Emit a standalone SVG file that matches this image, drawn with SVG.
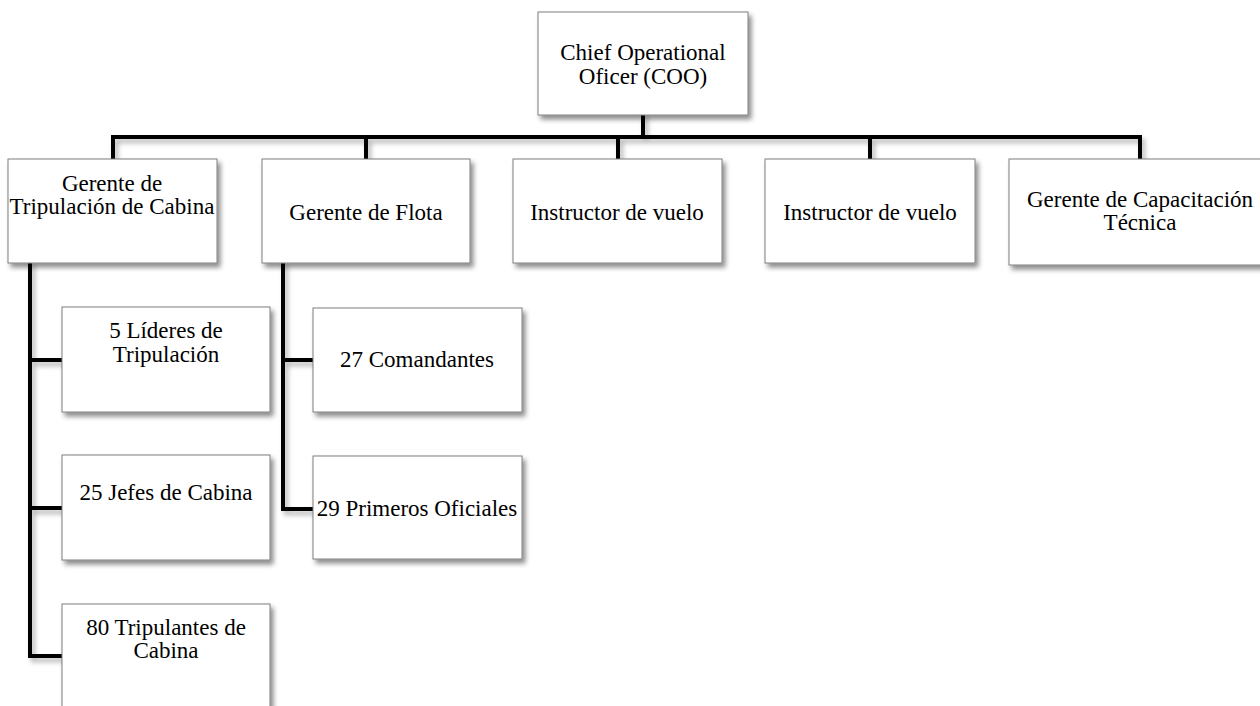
<svg xmlns="http://www.w3.org/2000/svg" width="1260" height="706" viewBox="0 0 1260 706">
  <defs>
    <filter id="shadow" x="-10%" y="-10%" width="130%" height="130%">
      <feDropShadow dx="3" dy="4" stdDeviation="2.5" flood-color="#000" flood-opacity="0.45"/>
    </filter>
    <filter id="lineShadow" x="-5%" y="-5%" width="110%" height="110%">
      <feDropShadow dx="3" dy="4" stdDeviation="2.5" flood-color="#000" flood-opacity="0.3"/>
    </filter>
  </defs>
  <style>
    .box { fill: #ffffff; stroke: #7f7f7f; stroke-width: 1; filter: url(#shadow); }
    .lbl { font-family: "Liberation Serif", "Times New Roman", serif; font-size: 23px; fill: #000; text-anchor: middle; }
    .conn { fill: none; stroke: #000; stroke-width: 4; stroke-linejoin: miter; stroke-linecap: square; }
  </style>
  <rect width="1260" height="706" fill="#ffffff"/>

  <!-- connectors -->
  <g id="connectors" filter="url(#lineShadow)">
    <path class="conn" d="M643 115 V137"/>
    <path class="conn" d="M113 159 V137 H1140 V159"/>
    <path class="conn" d="M366 137 V159"/>
    <path class="conn" d="M618 137 V159"/>
    <path class="conn" d="M870 137 V159"/>
    <path class="conn" d="M30 263 V656 H62"/>
    <path class="conn" d="M30 360 H62"/>
    <path class="conn" d="M30 508 H62"/>
    <path class="conn" d="M283 263 V509 H313"/>
    <path class="conn" d="M283 360 H313"/>
  </g>

  <!-- top level -->
  <g id="coo">
    <rect class="box" x="538" y="12" width="210" height="103"/>
    <text class="lbl" x="643" y="60">Chief Operational</text>
    <text class="lbl" x="643" y="84">Oficer (COO)</text>
  </g>

  <!-- second level -->
  <g id="gerente-tripulacion">
    <rect class="box" x="8" y="159" width="209" height="104"/>
    <text class="lbl" x="112" y="191">Gerente de</text>
    <text class="lbl" x="112" y="214">Tripulación de Cabina</text>
  </g>
  <g id="gerente-flota">
    <rect class="box" x="262" y="159" width="208" height="104"/>
    <text class="lbl" x="366" y="220">Gerente de Flota</text>
  </g>
  <g id="instructor-1">
    <rect class="box" x="513" y="159" width="209" height="104"/>
    <text class="lbl" x="617" y="220">Instructor de vuelo</text>
  </g>
  <g id="instructor-2">
    <rect class="box" x="765" y="159" width="210" height="104"/>
    <text class="lbl" x="870" y="220">Instructor de vuelo</text>
  </g>
  <g id="gerente-capacitacion">
    <rect class="box" x="1009" y="159" width="262" height="106"/>
    <text class="lbl" x="1140" y="207">Gerente de Capacitación</text>
    <text class="lbl" x="1140" y="230">Técnica</text>
  </g>

  <!-- cabin crew branch -->
  <g id="lideres">
    <rect class="box" x="62" y="307" width="208" height="105"/>
    <text class="lbl" x="166" y="338">5 Líderes de</text>
    <text class="lbl" x="166" y="362">Tripulación</text>
  </g>
  <g id="jefes">
    <rect class="box" x="62" y="455" width="208" height="105"/>
    <text class="lbl" x="166" y="500">25 Jefes de Cabina</text>
  </g>
  <g id="tripulantes">
    <rect class="box" x="62" y="604" width="208" height="105"/>
    <text class="lbl" x="166" y="635">80 Tripulantes de</text>
    <text class="lbl" x="166" y="658">Cabina</text>
  </g>

  <!-- fleet branch -->
  <g id="comandantes">
    <rect class="box" x="313" y="308" width="209" height="104"/>
    <text class="lbl" x="417" y="367">27 Comandantes</text>
  </g>
  <g id="primeros-oficiales">
    <rect class="box" x="313" y="456" width="209" height="103"/>
    <text class="lbl" x="417" y="516">29 Primeros Oficiales</text>
  </g>
</svg>
